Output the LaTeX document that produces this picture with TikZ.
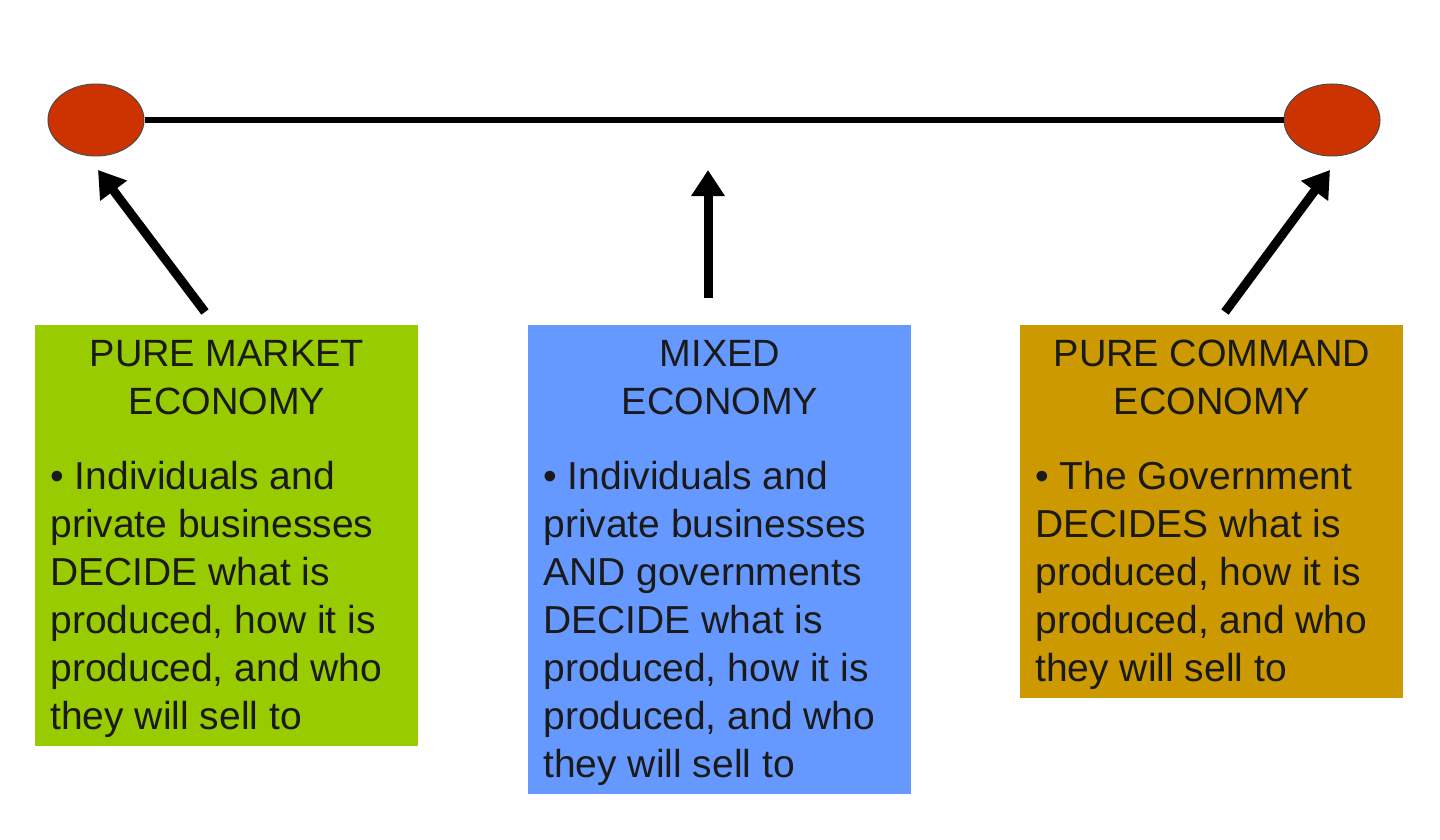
\documentclass[tikz,border=0pt]{standalone}
\usepackage{fontspec}
\setmainfont{Liberation Sans}
\usetikzlibrary{arrows.meta,shapes.geometric}
\definecolor{dotred}{HTML}{CC3300}
\definecolor{gbox}{HTML}{99CC00}
\definecolor{bbox}{HTML}{6699FF}
\definecolor{obox}{HTML}{CC9900}
\definecolor{txt}{HTML}{1A1A1A}
\tikzset{
 dot/.style={ellipse,draw=black!70,line width=0.5pt,fill=dotred,minimum width=48pt,minimum height=36pt,inner sep=0pt},
 panel/.style={draw=none,anchor=north west,inner sep=0pt,minimum width=191.5pt},
 ttl/.style={anchor=north,align=center,text=txt,font=\fontsize{19}{24}\selectfont,inner sep=0pt},
 body/.style={anchor=north west,align=left,text=txt,font=\fontsize{19.5}{24}\selectfont,inner sep=0pt},
 bigarrow/.style={line width=4.5pt,-{Triangle[length=13pt,width=16pt]}}
}
\begin{document}
\begin{tikzpicture}[x=0.5pt,y=-0.5pt]
\useasboundingbox (0,0) rectangle (1440,840);
\node[dot] (L) at (96,120) {};
\node[dot] (R) at (1332,120) {};
\draw[line width=3pt] (L) -- (R);
\node[panel,fill=gbox,minimum height=210.5pt] (g) at (35,325) {};
\node[panel,fill=bbox,minimum height=234.5pt] (b) at (528,325) {};
\node[panel,fill=obox,minimum height=186.5pt] (o) at (1020,325) {};
\node[ttl] (gt) at (227,340) {PURE MARKET\\ECONOMY};
\node[ttl] (bt) at (720,340) {MIXED\\ECONOMY};
\node[ttl] (ot) at (1212,340) {PURE COMMAND\\ECONOMY};
\node[body] (gb) at (50,461) {• Individuals and\\private businesses\\DECIDE what is\\produced, how it is\\produced, and who\\they will sell to};
\node[body] (bb) at (543,461) {• Individuals and\\private businesses\\AND governments\\DECIDE what is\\produced, how it is\\produced, and who\\they will sell to};
\node[body] (ob) at (1035,461) {• The Government\\DECIDES what is\\produced, how it is\\produced, and who\\they will sell to};
\coordinate (ga) at (205,312);
\coordinate (ba) at (708,298);
\coordinate (oa) at (1225,312);
\coordinate (la) at (98,170);
\coordinate (ma) at (708,170);
\coordinate (ra) at (1330,170);
\draw[bigarrow] (ga) -- (la);
\draw[bigarrow] (ba) -- (ma);
\draw[bigarrow] (oa) -- (ra);
\end{tikzpicture}
\end{document}
